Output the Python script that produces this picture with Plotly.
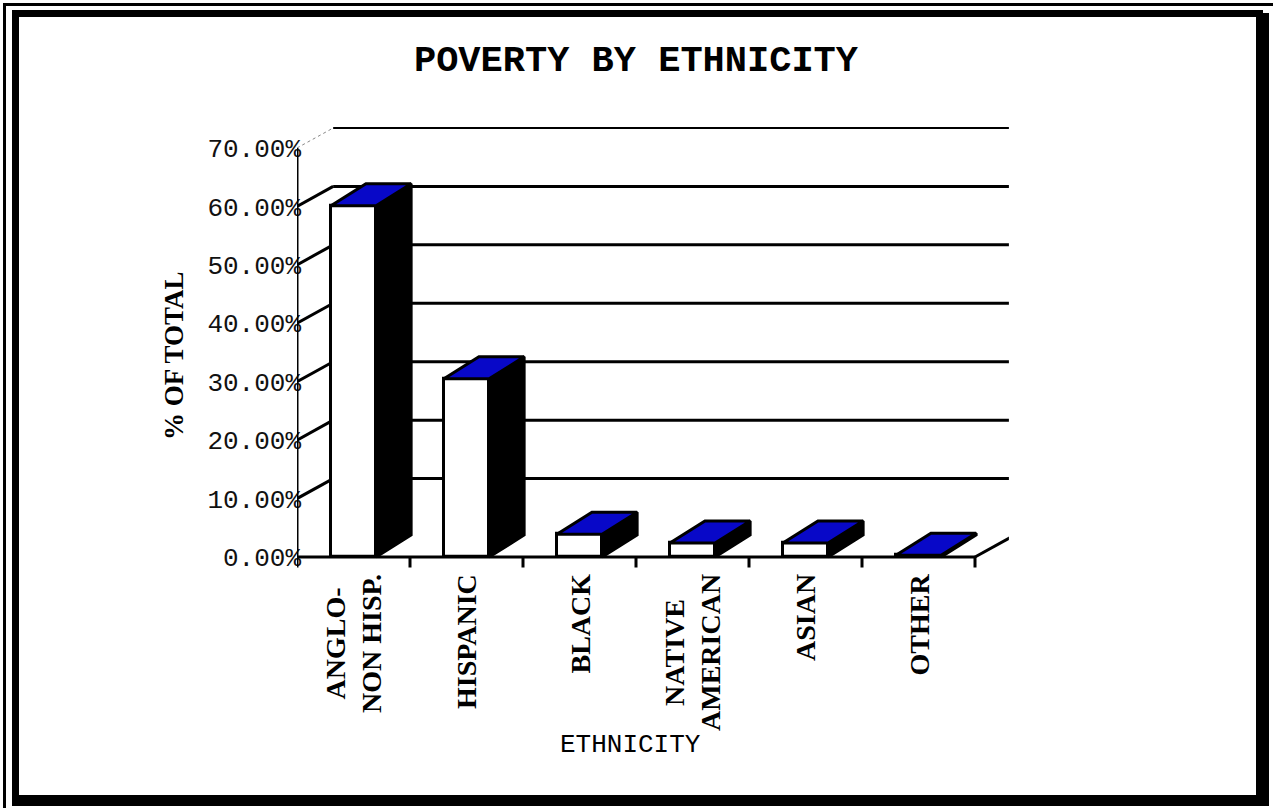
import plotly.graph_objects as go

# ---------------- data ----------------
categories = ["ANGLO-<br>NON HISP.", "HISPANIC", "BLACK", "NATIVE<br>AMERICAN", "ASIAN", "OTHER"]
values = [60.1, 30.5, 3.9, 2.4, 2.4, 0.3]
y_ticks = [0, 10, 20, 30, 40, 50, 60, 70]
y_ticktext = ["0.00%", "10.00%", "20.00%", "30.00%", "40.00%", "50.00%", "60.00%", "70.00%"]
title_text = "POVERTY BY ETHNICITY"
x_title = "ETHNICITY"
y_title = "% OF TOTAL"

# ---------------- geometry / style ----------------
W, H = 1273, 810
BAR_W = 0.40          # front face width (category units)
BAR_DX, BAR_DY = 0.31, 3.77    # 3-D depth of bars (x units, % units)
WALL_DX, WALL_DY = 0.32, 3.42  # offset of back wall
X_MIN, X_MAX = -0.5, len(categories) - 0.5
BLUE = "#0808c8"

px_per_x = 113.0
px_per_y = 5.843
x_left_px = 297.0
y_zero_px = 557.0
x_range = [X_MIN, X_MAX + 0.3]
y_range = [-3, 75]
x_dom = [x_left_px / W, (x_left_px + (x_range[1] - x_range[0]) * px_per_x) / W]
y_bot_px = y_zero_px + (0 - y_range[0]) * px_per_y
y_top_px = y_zero_px - (y_range[1] - 0) * px_per_y
y_dom = [1 - y_bot_px / H, 1 - y_top_px / H]

def px(x):
    return x / W

def py(y):
    return 1 - y / H

fig = go.Figure()

idx = list(range(len(categories)))

# front faces
fig.add_trace(go.Bar(
    x=idx, y=values, width=BAR_W,
    marker=dict(color="white", line=dict(color="black", width=3)),
    hoverinfo="skip", showlegend=False,
))

# side faces
sx, sy = [], []
for i, v in zip(idx, values):
    xr = i + BAR_W / 2
    sx += [xr, xr + BAR_DX, xr + BAR_DX, xr, xr, None]
    sy += [0, BAR_DY, v + BAR_DY, v, 0, None]
fig.add_trace(go.Scatter(x=sx, y=sy, mode="lines", fill="toself",
                         fillcolor="black", line=dict(color="black", width=3),
                         hoverinfo="skip", showlegend=False))

# top faces
tx, ty = [], []
for i, v in zip(idx, values):
    xl, xr = i - BAR_W / 2, i + BAR_W / 2
    tx += [xl, xl + BAR_DX, xr + BAR_DX, xr, xl, None]
    ty += [v, v + BAR_DY, v + BAR_DY, v, v, None]
fig.add_trace(go.Scatter(x=tx, y=ty, mode="lines", fill="toself",
                         fillcolor=BLUE, line=dict(color="black", width=3),
                         hoverinfo="skip", showlegend=False))

shapes = []
# back wall gridlines + diagonals
for v in y_ticks[1:]:
    last = v == y_ticks[-1]
    shapes.append(dict(type="line", xref="x", yref="y", layer="below",
                       x0=X_MIN + WALL_DX, x1=X_MAX + WALL_DX,
                       y0=v + WALL_DY, y1=v + WALL_DY,
                       line=dict(color="black", width=2 if last else 3)))
    shapes.append(dict(type="line", xref="x", yref="y", layer="below",
                       x0=X_MIN, x1=X_MIN + WALL_DX, y0=v, y1=v + WALL_DY,
                       line=dict(color="#888888" if last else "black",
                                 width=1 if last else 3,
                                 dash="dot" if last else "solid")))
# right floor diagonal
shapes.append(dict(type="line", xref="x", yref="y", layer="above",
                   x0=X_MAX, x1=X_MAX + WALL_DX, y0=0, y1=WALL_DY,
                   line=dict(color="black", width=3)))
# front axes
shapes.append(dict(type="line", xref="x", yref="y", layer="above",
                   x0=X_MIN, x1=X_MIN, y0=-1.8, y1=y_ticks[-1],
                   line=dict(color="black", width=3)))
shapes.append(dict(type="line", xref="x", yref="y", layer="above",
                   x0=X_MIN, x1=X_MAX, y0=0, y1=0,
                   line=dict(color="black", width=3)))
for i in idx:
    shapes.append(dict(type="line", xref="x", yref="y", layer="above",
                       x0=i + 0.5, x1=i + 0.5, y0=0, y1=-1.8,
                       line=dict(color="black", width=3)))

# frame
def rect(x0, y0, x1, y1):
    return dict(type="rect", xref="paper", yref="paper", layer="above",
                x0=px(x0), x1=px(x1), y0=py(y1), y1=py(y0),
                fillcolor="black", line=dict(width=0))
shapes += [
    rect(3, 3, W, 6),      # thin outer top
    rect(3, 3, 6, 808),    # thin outer left
    rect(12, 10, 1263, 17),
    rect(12, 10, 19, 806),
    rect(1256, 13, 1269, 806),
    rect(15, 795, 1269, 806),
]

annotations = []
for i, c in zip(idx, categories):
    annotations.append(dict(x=i, xref="x", y=py(572), yref="paper",
                            text=c, textangle=-90, showarrow=False,
                            xanchor="center", yanchor="top", align="center",
                            font=dict(family="Liberation Serif", size=28,
                                      color="black", weight="bold")))
annotations.append(dict(x=px(630), y=py(745), xref="paper", yref="paper",
                        text=x_title, showarrow=False,
                        xanchor="center", yanchor="middle",
                        font=dict(family="Liberation Mono", size=26, color="black")))
annotations.append(dict(x=px(174), y=py(356), xref="paper", yref="paper",
                        text=y_title, textangle=-90, showarrow=False,
                        xanchor="center", yanchor="middle",
                        font=dict(family="Liberation Serif", size=27,
                                  color="black", weight="bold")))

fig.update_layout(
    width=W, height=H,
    margin=dict(l=0, r=0, t=0, b=0),
    paper_bgcolor="white", plot_bgcolor="white",
    title=dict(text=title_text, x=px(636), y=py(58), xref="paper", yref="paper",
               xanchor="center", yanchor="middle",
               font=dict(family="Liberation Mono", size=37, color="black",
                         weight="bold")),
    xaxis=dict(range=x_range, domain=x_dom, showgrid=False, zeroline=False,
               showline=False, showticklabels=False, ticks="", fixedrange=True),
    yaxis=dict(range=y_range, domain=y_dom, showgrid=False, zeroline=False,
               showline=False, tickvals=y_ticks, ticktext=y_ticktext, ticks="",
               ticklabelstandoff=-5,
               tickfont=dict(family="Liberation Mono", size=26, color="#111111"),
               fixedrange=True),
    shapes=shapes, annotations=annotations,
    showlegend=False, bargap=0,
)

fig.write_html("out.html")
